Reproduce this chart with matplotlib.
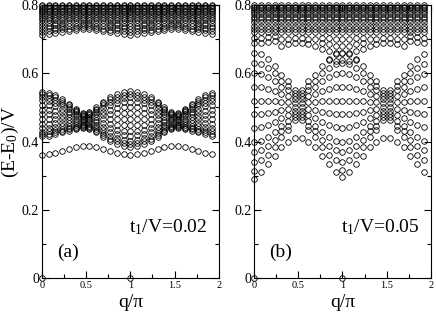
import matplotlib
matplotlib.use('Agg')
import matplotlib.pyplot as plt
from matplotlib.ticker import MultipleLocator

plt.rcParams['font.family'] = ['Liberation Serif', 'DejaVu Serif']
plt.rcParams['mathtext.fontset'] = 'custom'
plt.rcParams['mathtext.rm'] = 'Liberation Serif'
plt.rcParams['mathtext.it'] = 'Liberation Serif:italic'

# momentum grid q/pi (26 sites)
q_grid = [0.000, 0.077, 0.154, 0.231, 0.308, 0.385, 0.462, 0.538, 0.615, 0.692,
          0.769, 0.846, 0.923, 1.000, 1.077, 1.154, 1.231, 1.308, 1.385, 1.462,
          1.538, 1.615, 1.692, 1.769, 1.846, 1.923]

# ground states
zero_q = [0.0, 1.0]
zero_e = [0.0, 0.0]

# ---- panel (a), t1/V = 0.02 ; columns for q = 0 .. 1 (mirrored for q > 1)
a_bound = [0.362, 0.364, 0.368, 0.373, 0.378, 0.383, 0.387,
           0.387, 0.383, 0.378, 0.373, 0.368, 0.364, 0.362]

a_band = [
    [.415, .422, .429, .439, .452, .466, .480, .494, .508, .521, .531, .539, .545],
    [.417, .423, .431, .441, .453, .466, .480, .494, .507, .519, .529, .537, .543],
    [.421, .427, .434, .443, .454, .466, .479, .491, .504, .514, .523, .530, .536],
    [.427, .432, .438, .445, .455, .465, .476, .486, .497, .506, .513, .519, .524],
    [.432, .436, .441, .447, .454, .462, .471, .480, .488, .495, .501, .506, .510],
    [.437, .440, .444, .448, .454, .460, .467, .474, .480, .486, .490, .494, .497],
    [.441, .443, .446, .449, .453, .458, .463, .467, .472, .476, .479, .482, .484],
    [.438, .440, .443, .447, .452, .457, .462, .467, .472, .477, .481, .484, .486],
    [.428, .432, .436, .442, .448, .456, .464, .472, .480, .487, .492, .496, .500],
    [.414, .419, .425, .433, .443, .454, .466, .477, .488, .498, .506, .512, .517],
    [.403, .409, .417, .427, .439, .452, .467, .481, .494, .506, .516, .524, .530],
    [.394, .401, .410, .421, .435, .450, .467, .483, .498, .512, .523, .532, .539],
    [.388, .396, .405, .418, .432, .449, .467, .484, .501, .516, .528, .537, .545],
    [.385, .393, .403, .416, .431, .448, .466, .484, .501, .517, .530, .539, .547],
]

a_top_low = [
    [.713, .722, .731, .739], [.715, .724, .732, .740], [.718, .726, .734, .741],
    [.721, .729, .736, .742], [.724, .731, .738], [.727, .734, .740],
    [.729, .736, .742], [.729, .736, .742], [.727, .734, .740],
    [.724, .731, .738], [.720, .728, .736, .742], [.717, .726, .734, .741],
    [.714, .723, .732, .740], [.712, .721, .730, .739],
]
a_top = [.748, .755, .762, .768, .774, .779, .784, .788, .792, .796, .799]

# ---- panel (b), t1/V = 0.05
b_bound = [0.290, 0.310, 0.333, 0.357, 0.385, 0.400, 0.410,
           0.410, 0.400, 0.385, 0.357, 0.333, 0.310, 0.295]

b_band = [
    [.313, .34, .37, .40, .44, .48, .52, .56, .60, .63, .66],
    [.345, .374, .403, .442, .481, .520, .559, .597, .626, .656],
    [.360, .386, .413, .448, .483, .519, .554, .590, .616, .643],
    [.383, .405, .428, .458, .488, .518, .548, .578, .600, .623],
    [.413, .430, .447, .470, .493, .516, .539, .561, .578, .596],
    [.433, .447, .460, .478, .496, .515, .533, .551, .564, .578],
    [.464, .472, .480, .491, .502, .513, .524, .534, .542, .551],
    [.464, .472, .480, .491, .502, .513, .524, .534, .542, .551],
    [.433, .447, .460, .478, .496, .515, .533, .551, .564, .578],
    [.413, .430, .447, .470, .493, .516, .539, .561, .578, .596],
    [.383, .405, .428, .458, .488, .518, .548, .578, .600, .623],
    [.360, .386, .413, .448, .483, .519, .554, .590, .616, .643],
    [.345, .374, .403, .442, .481, .520, .559, .597, .626, .656],
    [.318, .34, .37, .40, .44, .48, .52, .56, .60, .63, .66],
]

b_top_low = [
    [.69, .705], [.69, .705], [.692, .707], [.695, .71], [.68, .70],
    [.685, .70], [.69, .705], [.69, .705], [.685, .70], [.68, .70],
    [.67, .69, .705], [.64, .665, .685, .705], [.635, .66, .68, .70],
    [.64, .66, .68, .70],
]
b_top = [.72, .73, .74, .75, .758, .766, .773, .78, .786, .791, .795, .799]


def collect(bound, band, top_low, top):
    xs, ys = [], []
    for n, q in enumerate(q_grid):
        m = n if n <= 13 else 26 - n
        levels = [bound[m]] + band[m] + top_low[m] + top
        xs += [q] * len(levels)
        ys += levels
    return xs, ys


fig = plt.figure(figsize=(4.36, 3.2), dpi=100)
ax_a = fig.add_axes([0.096, 0.131, 0.406, 0.853])
ax_b = fig.add_axes([0.583, 0.131, 0.405, 0.853])

panels = [(ax_a, a_bound, a_band, a_top_low, a_top, '(a)', 't$_1$/V=0.02'),
          (ax_b, b_bound, b_band, b_top_low, b_top, '(b)', 't$_1$/V=0.05')]

for ax, bound, band, top_low, top, tag, lab in panels:
    xs, ys = collect(bound, band, top_low, top)
    ax.plot(xs, ys, 'o', ls='none', mfc='none', mec='k', ms=4, mew=0.6, clip_on=False)
    ax.plot(zero_q, zero_e, 'o', ls='none', mfc='none', mec='k', ms=4, mew=0.6, clip_on=False)
    ax.set_xlim(0, 2)
    ax.set_ylim(0, 0.8)
    ax.xaxis.set_minor_locator(MultipleLocator(0.25))
    ax.yaxis.set_minor_locator(MultipleLocator(0.1))
    ax.set_xticks([0, 0.5, 1, 1.5, 2])
    ax.set_xticklabels(['0', '0.5', '1', '1.5', '2'])
    ax.set_yticks([0, 0.2, 0.4, 0.6, 0.8])
    ax.set_yticklabels(['0', '0.2', '0.4', '0.6', '0.8'])
    ax.tick_params(which='both', direction='in', top=True, right=True, pad=2)
    ax.tick_params(axis='x', labelsize=7.5)
    ax.tick_params(axis='y', labelsize=10)
    ax.tick_params(which='major', length=5, width=0.8)
    ax.tick_params(which='minor', length=3, width=0.8)
    ax.set_xlabel('q/π', fontsize=14, labelpad=3)
    ax.text(0.17, 0.062, tag, fontsize=14)
    ax.text(0.98, 0.135, lab, fontsize=14)

ax_a.set_ylabel('(E-E$_0$)/V', fontsize=14)
ax_a.yaxis.set_label_coords(-0.12, 0.5)

fig.savefig('out.png', dpi=100)
